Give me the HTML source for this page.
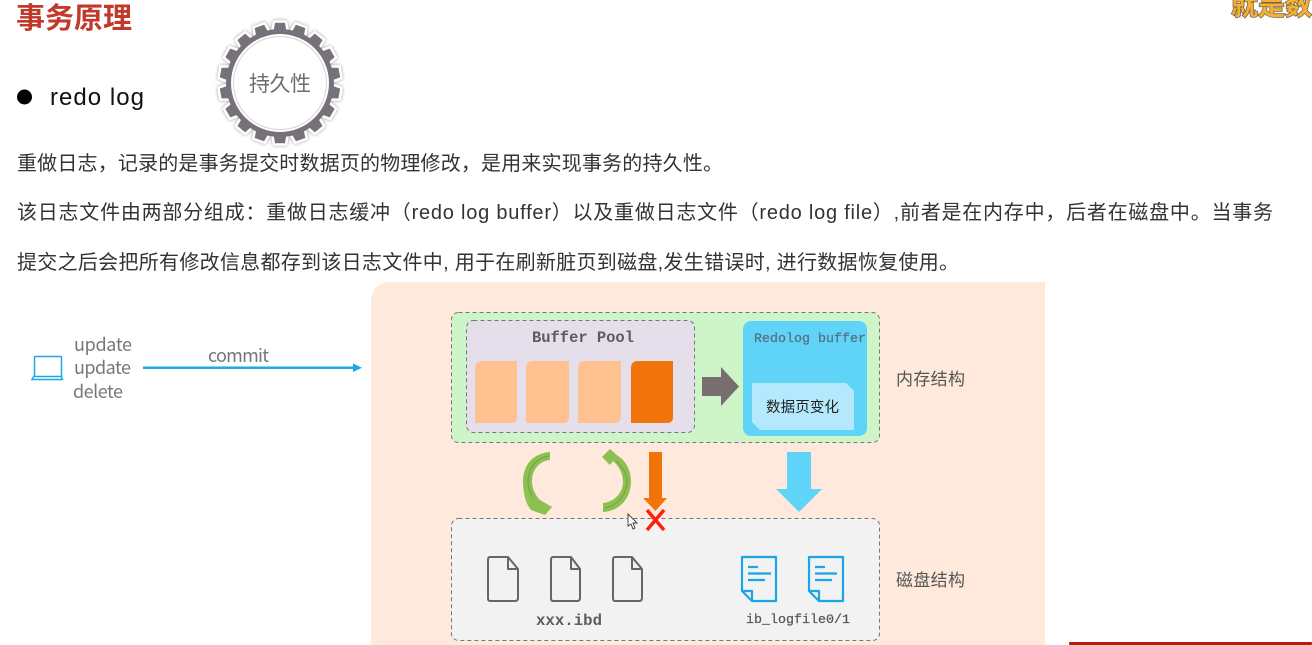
<!DOCTYPE html>
<html lang="zh"><head><meta charset="utf-8"><style>
html,body{margin:0;padding:0;background:#fff;width:1312px;height:645px;overflow:hidden}
svg{display:block}
text{font-family:"Liberation Sans","Noto Sans CJK SC",sans-serif}
.cn{font-family:"Noto Sans CJK SC","Liberation Sans",sans-serif}
.m{font-family:"Liberation Mono","Noto Sans CJK SC",monospace}
</style></head><body>
<svg width="1312" height="645" viewBox="0 0 1312 645" xmlns="http://www.w3.org/2000/svg">
<rect width="1312" height="645" fill="#fff"/>
<text class="cn" x="16" y="28" font-size="29" font-weight="700" fill="#c0392b" textLength="116">事务原理</text>
<circle cx="24.500" cy="97" r="7.500" fill="#000"/>
<text x="50" y="105" font-size="24" fill="#111" textLength="94">redo log</text>
<!-- gear -->
<g transform="translate(280 83)">
<g style="filter:drop-shadow(0 0 1.5px #999)">
<g fill="#77727a" stroke="#fff" stroke-width="2.500" stroke-linejoin="round">
<polygon points="-8,-50 -6,-61.500 6,-61.500 8,-50" transform="rotate(0)"/>
<polygon points="-8,-50 -6,-61.500 6,-61.500 8,-50" transform="rotate(20)"/>
<polygon points="-8,-50 -6,-61.500 6,-61.500 8,-50" transform="rotate(40)"/>
<polygon points="-8,-50 -6,-61.500 6,-61.500 8,-50" transform="rotate(60)"/>
<polygon points="-8,-50 -6,-61.500 6,-61.500 8,-50" transform="rotate(80)"/>
<polygon points="-8,-50 -6,-61.500 6,-61.500 8,-50" transform="rotate(100)"/>
<polygon points="-8,-50 -6,-61.500 6,-61.500 8,-50" transform="rotate(120)"/>
<polygon points="-8,-50 -6,-61.500 6,-61.500 8,-50" transform="rotate(140)"/>
<polygon points="-8,-50 -6,-61.500 6,-61.500 8,-50" transform="rotate(160)"/>
<polygon points="-8,-50 -6,-61.500 6,-61.500 8,-50" transform="rotate(180)"/>
<polygon points="-8,-50 -6,-61.500 6,-61.500 8,-50" transform="rotate(200)"/>
<polygon points="-8,-50 -6,-61.500 6,-61.500 8,-50" transform="rotate(220)"/>
<polygon points="-8,-50 -6,-61.500 6,-61.500 8,-50" transform="rotate(240)"/>
<polygon points="-8,-50 -6,-61.500 6,-61.500 8,-50" transform="rotate(260)"/>
<polygon points="-8,-50 -6,-61.500 6,-61.500 8,-50" transform="rotate(280)"/>
<polygon points="-8,-50 -6,-61.500 6,-61.500 8,-50" transform="rotate(300)"/>
<polygon points="-8,-50 -6,-61.500 6,-61.500 8,-50" transform="rotate(320)"/>
<polygon points="-8,-50 -6,-61.500 6,-61.500 8,-50" transform="rotate(340)"/>
</g>
</g>
<circle r="54" fill="#77727a"/>
<circle r="49" fill="#fff"/>
<circle r="46.500" fill="#fff" stroke="#d4d4d4" stroke-width="1"/>
<text class="cn" x="0" y="8" font-size="21" fill="#6f6b70" text-anchor="middle" textLength="62">持久性</text>
</g>
<!-- paragraphs -->
<text x="17" y="170" font-size="20" fill="#333" textLength="706">重做日志，记录的是事务提交时数据页的物理修改，是用来实现事务的持久性。</text>
<text x="17" y="219" font-size="20" fill="#333" textLength="1256">该日志文件由两部分组成：重做日志缓冲（redo log buffer）以及重做日志文件（redo log file）,前者是在内存中，后者在磁盘中。当事务</text>
<text x="17" y="269" font-size="20" fill="#333" textLength="942">提交之后会把所有修改信息都存到该日志文件中, 用于在刷新脏页到磁盘,发生错误时, 进行数据恢复使用。</text>
<!-- watermark -->
<text class="cn" x="1231" y="15" font-size="27" font-weight="700" fill="#f5b032" stroke="#6b6252" stroke-width="1.500" paint-order="stroke">就是数</text>
<rect x="1069" y="642" width="243" height="3" fill="#b71c0c" rx="1"/>
<!-- left -->
<g fill="none" stroke="#1aa9e6" stroke-width="1.500">
<rect x="34.500" y="356.500" width="27" height="20" rx="1"/>
<path d="M34 376 L32 379.500 H62.500 L61 376"/>
</g>
<g font-size="18" fill="#777">
<text class="cn" x="74" y="351" textLength="58">update</text>
<text class="cn" x="74" y="374" textLength="57">update</text>
<text class="cn" x="73" y="398" textLength="50">delete</text>
<text class="cn" x="208" y="362" textLength="61">commit</text>
</g>
<rect x="143" y="366.500" width="212" height="2.500" fill="#1aa9e6"/>
<path d="M353 363.500 L362 367.700 L353 372 Z" fill="#1aa9e6"/>
<!-- big panel -->
<path d="M1045 282 H392 Q371 282 371 303 V645 H1045 Z" fill="#fee9dc"/>
<!-- memory -->
<rect x="451.500" y="312.500" width="428" height="130" rx="7" fill="#cdf5c8" stroke="#777" stroke-width="1" stroke-dasharray="4 3"/>
<rect x="466.500" y="320.500" width="228" height="112" rx="7" fill="#e5dfec" stroke="#777" stroke-width="1" stroke-dasharray="4 3"/>
<text class="m" x="532" y="342" font-size="15.500" font-weight="700" fill="#5f5a62" textLength="102">Buffer Pool</text>
<path d="M482 361 H517 V417 Q517 423 511 423 H475 V368 Q475 361 482 361Z" fill="#ffc18f"/>
<path d="M533 361 H569 V417 Q569 423 563 423 H526 V368 Q526 361 533 361Z" fill="#ffc18f"/>
<path d="M585 361 H621 V417 Q621 422 615 423 H578 V368 Q578 361 585 361Z" fill="#ffc18f"/>
<path d="M638 361 H673 V417 Q673 423 667 423 H631 V368 Q631 361 638 361Z" fill="#f3730b"/>
<path d="M702 377 H721 V367 L739 386.500 L721 406 V396 H702 Z" fill="#786e70"/>
<rect x="743" y="321" width="124" height="115" rx="8" fill="#5fd3f8"/>
<text class="m" x="754" y="342" font-size="13.300" fill="#55707f" stroke="#55707f" stroke-width=".25" textLength="112">Redolog buffer</text>
<path d="M752 383 H846 L854 391 V430 H760 L752 422 Z" fill="#b4e9fd"/>
<text class="cn" x="766" y="412" font-size="14.500" fill="#222" textLength="73">数据页变化</text>
<text class="cn" x="896" y="385" font-size="17" fill="#555" textLength="69">内存结构</text>
<!-- arrows -->
<path d="M550 452 C530 454 523 468 523 482 C523 492 527 500 532 505 L535 500 L552 507 L545 515 L531 510 C 526 504 523 494 523 482 Z" fill="#8cc152"/>
<path d="M550 452 C530 454 523 468 523 482 C523 494 529 503 535 508 L545 514 L552 507 L540 500 C535 495 532 488 532 481 C532 470 539 461 550 460 Z" fill="#8cc152"/>
<path d="M549 456 C535 458 528 470 528 482 C528 488 530 493 533 497" fill="none" stroke="#77a548" stroke-width="1.200"/>
<path d="M610 449 L602 457 L610 465 L613 461 C621 468 623 476 623 482 C623 492 615 502 603 503 V512 C620 511 631 498 631 481 C631 470 625 460 618 456 Z" fill="#8cc152"/>
<path d="M616 461 C624 468 627 475 627 482 C627 494 617 506 605 508" fill="none" stroke="#77a548" stroke-width="1.200"/>
<path d="M649 452 H662 V498 H667 L655.500 511 L643 498 H649 Z" fill="#f3730b"/>
<path d="M787 452 H811 V489 H822 L799 512 L776 489 H787 Z" fill="#5fd3f8"/>
<!-- disk -->
<rect x="451.500" y="518.500" width="428" height="122" rx="7" fill="#f2f2f3" stroke="#777" stroke-width="1" stroke-dasharray="4 3"/>
<path d="M647 510 L664 530 M664 510 L647 530" stroke="#ff1f10" stroke-width="3.500" fill="none"/>
<path d="M628 514 V526 L631 524 L633 529 L635 528 L633 523 L637 523 Z" fill="#fff" stroke="#333" stroke-width=".9"/>
<g fill="none" stroke="#666" stroke-width="2" stroke-linejoin="round">
<path d="M490 557 H508 L518 569 V598 Q518 601 515 601 H490 Q488 601 488 598 V560 Q488 557 490 557Z M508 557 V569 H518"/>
<path d="M553 557 H571 L580 569 V598 Q580 601 577 601 H553 Q551 601 551 598 V560 Q551 557 553 557Z M571 557 V569 H580"/>
<path d="M615 557 H632 L642 569 V598 Q642 601 639 601 H615 Q613 601 613 598 V560 Q613 557 615 557Z M632 557 V569 H642"/>
</g>
<g fill="none" stroke="#1aa5e4" stroke-width="2.200" stroke-linejoin="round">
<path d="M742 557 H776 V601 H752 L742 591 Z M742 591 H752 V601"/>
<path d="M748 567 H758 M748 573.500 H771 M748 580 H765"/>
<path d="M809 557 H843 V601 H819 L809 591 Z M809 591 H819 V601"/>
<path d="M815 567 H825 M815 573.500 H837 M815 580 H832"/>
</g>
<text class="m" x="536" y="625" font-size="15.700" font-weight="700" fill="#5c5c5c" textLength="66">xxx.ibd</text>
<text class="m" x="746" y="623" font-size="13.300" fill="#555" stroke="#555" stroke-width=".25" textLength="104">ib_logfile0/1</text>
<text class="cn" x="896" y="586" font-size="17" fill="#555" textLength="69">磁盘结构</text>
</svg>
</body></html>
